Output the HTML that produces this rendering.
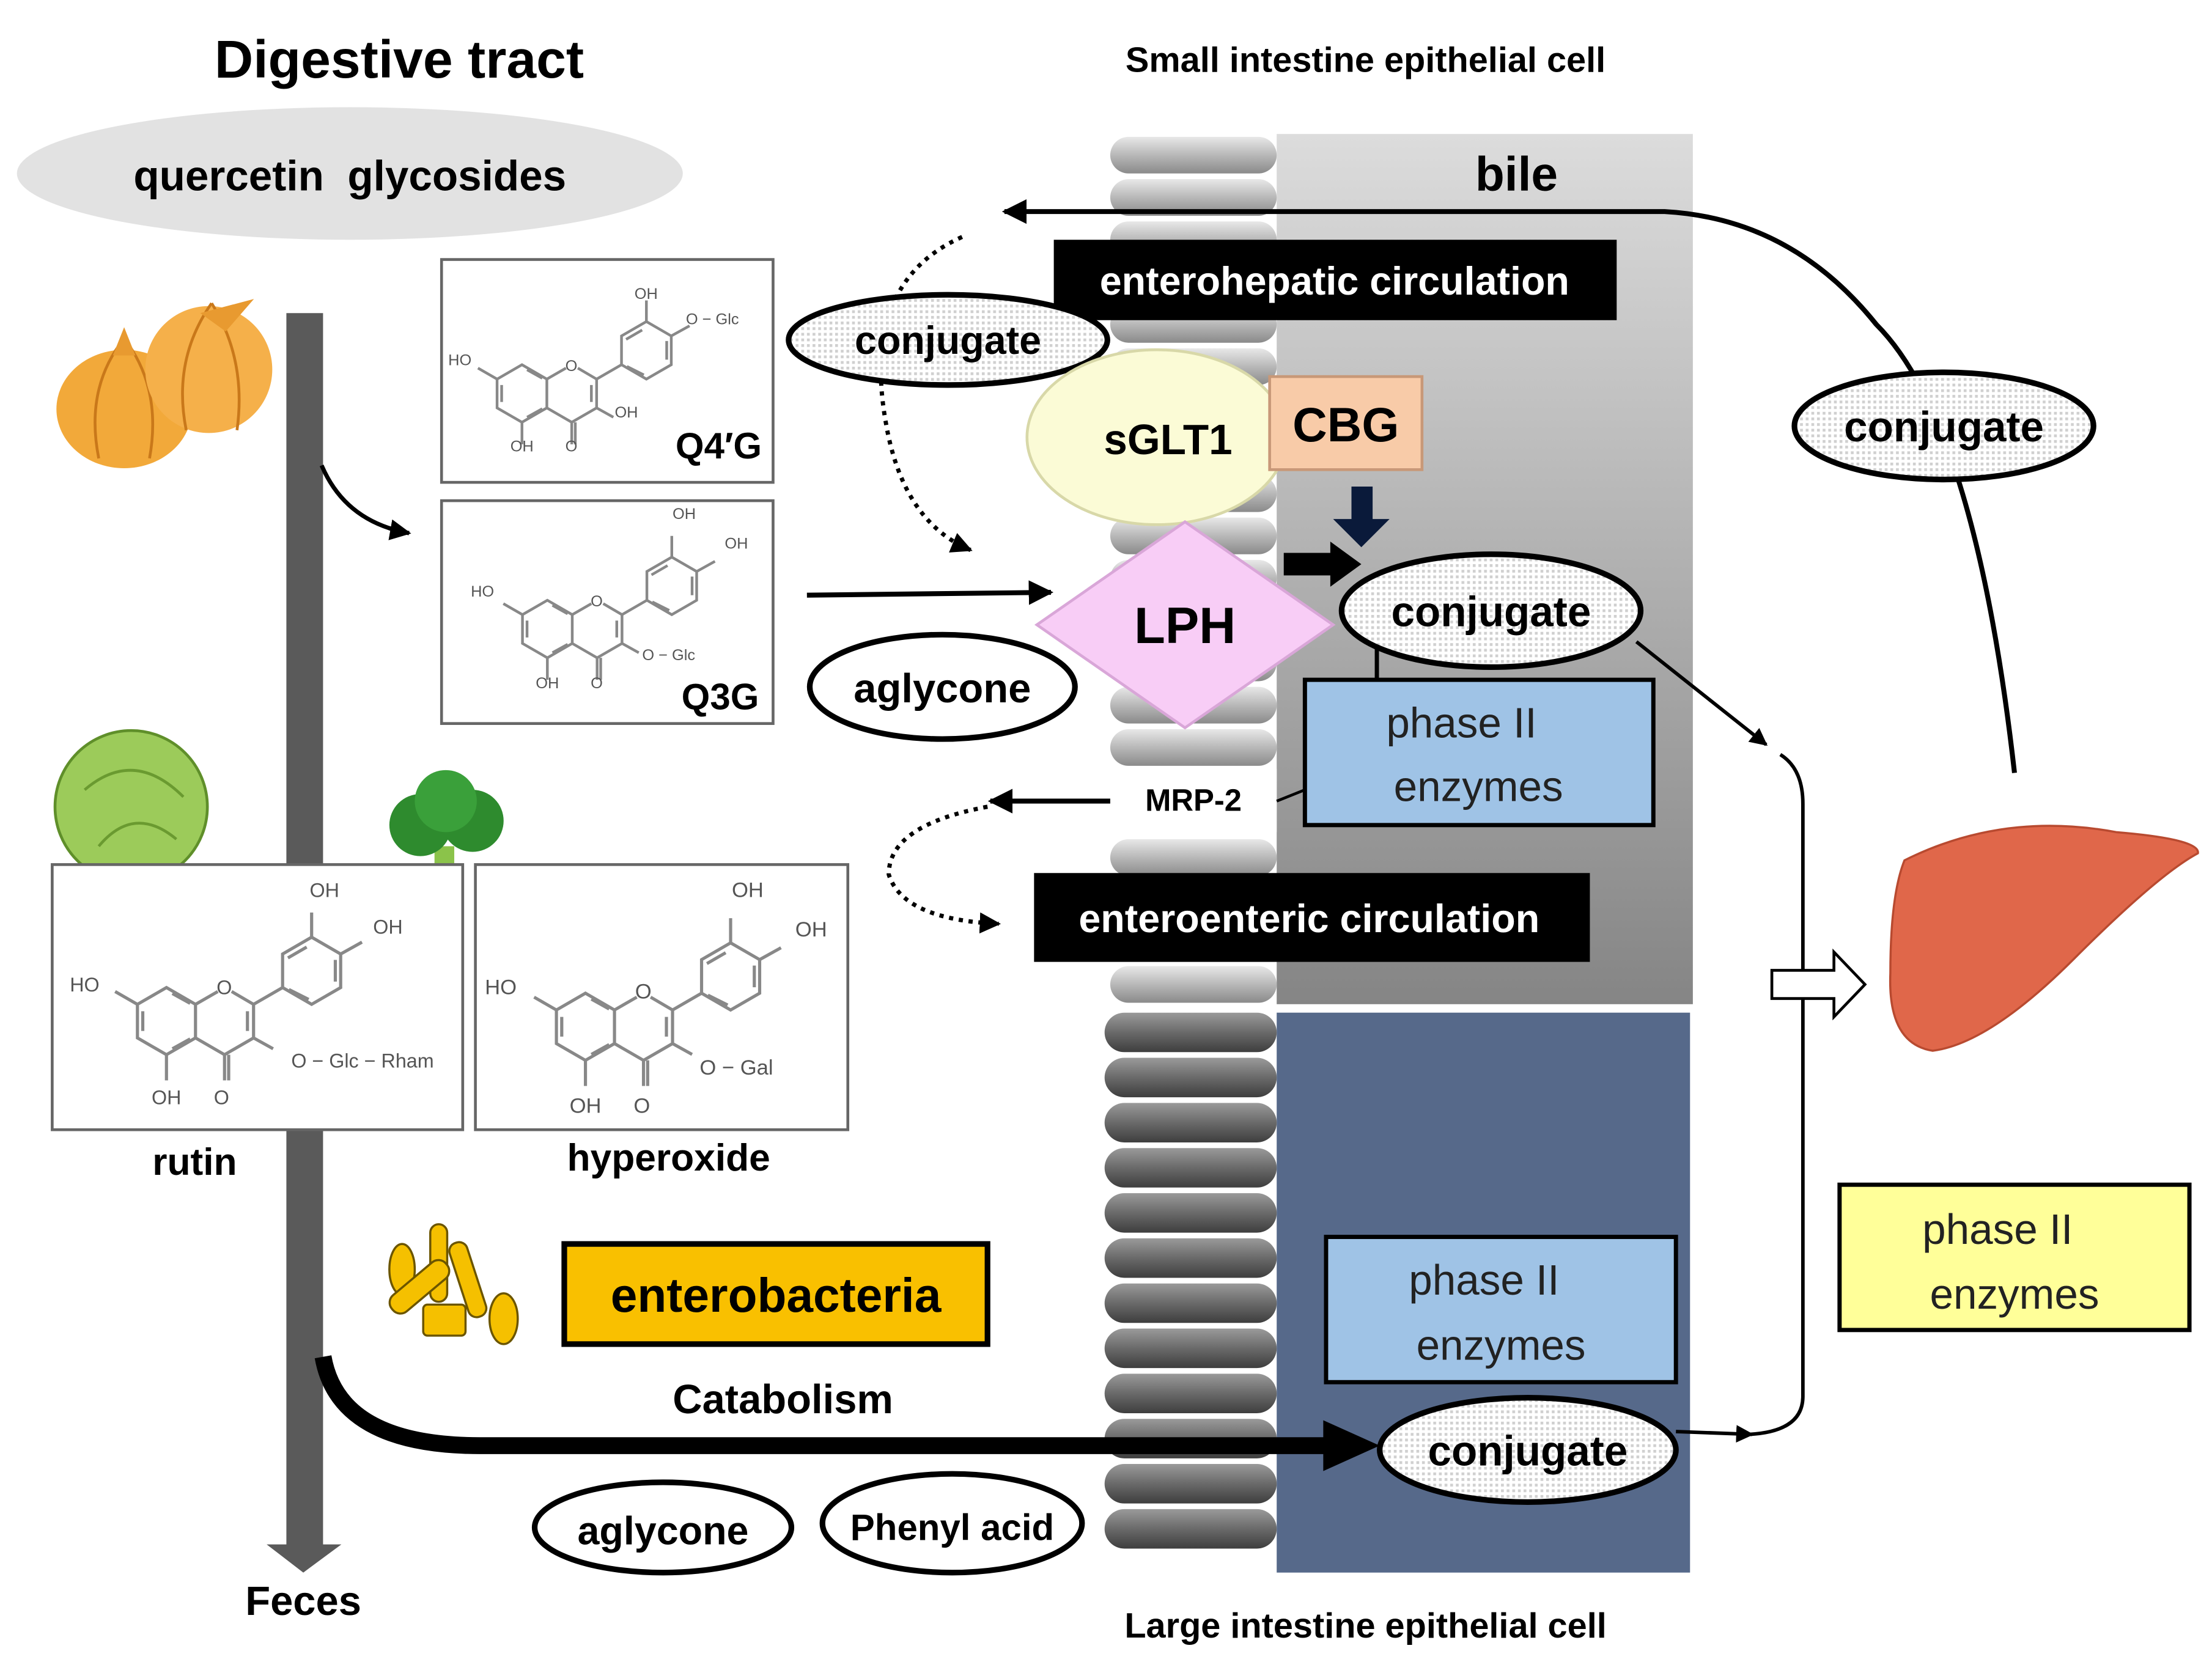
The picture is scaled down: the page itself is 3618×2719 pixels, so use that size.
<!DOCTYPE html>
<html><head><meta charset="utf-8"><style>
html,body{margin:0;padding:0;background:#fff;}
svg{display:block;}
text{font-family:"Liberation Sans",sans-serif;}
.b{font-weight:bold;}
</style></head><body>
<svg width="3618" height="2719" viewBox="0 0 1568 1178.4" preserveAspectRatio="none" xmlns="http://www.w3.org/2000/svg">
<defs>
<linearGradient id="gp" x1="0" y1="0" x2="0" y2="1"><stop offset="0" stop-color="#dcdcdc"/><stop offset="1" stop-color="#858585"/></linearGradient>
<linearGradient id="pill" x1="0" y1="0" x2="0" y2="1"><stop offset="0" stop-color="#e8e8e8"/><stop offset="0.5" stop-color="#b8b8b8"/><stop offset="1" stop-color="#8a8a8a"/></linearGradient>
<linearGradient id="pill2" x1="0" y1="0" x2="0" y2="1"><stop offset="0" stop-color="#9a9a9a"/><stop offset="0.5" stop-color="#6a6a6a"/><stop offset="1" stop-color="#3e3e3e"/></linearGradient>
<pattern id="dots" width="4" height="4" patternUnits="userSpaceOnUse"><rect width="4" height="4" fill="#fff"/><rect width="2" height="2" fill="#d0d0d0"/></pattern>
<marker id="ah" viewBox="0 0 10 10" refX="9" refY="5" markerWidth="5" markerHeight="5" orient="auto"><path d="M0,0 L10,5 L0,10 z" fill="#000"/></marker>
<g id="mol" fill="none" stroke="#888" stroke-width="1.6">
<path d="M0,-17 L14.7,-8.5 L14.7,8.5 L0,17 L-14.7,8.5 L-14.7,-8.5 Z"/>
<path d="M14.7,-8.5 L26,-15 M33,-15 L44.1,-8.5 L44.1,8.5 L29.4,17 L14.7,8.5"/>
<path d="M44.1,-8.5 L58.8,-17"/>
<path d="M58.8,-17 L58.8,-34 L73.5,-42.5 L88.2,-34 L88.2,-17 L73.5,-8.5 Z"/>
<path d="M-14.7,-8.5 L-26,-15 M0,17 L0,30 M29.4,17 L29.4,30 M31.5,17 L31.5,30 M44.1,8.5 L54,14 M73.5,-42.5 L73.5,-55 M88.2,-34 L99,-40"/>
<path d="M3,-14 L12,-9 M3,14 L12,9 M-12,-5 L-12,5 M41,-5 L41,5 M61.5,-32 L71,-37.5 M85.5,-20 L85.5,-31 M62,-16 L72,-11"/>
</g>
</defs>

<!-- title -->
<text x="283" y="55" class="b" font-size="38" text-anchor="middle">Digestive tract</text>
<ellipse cx="248" cy="123" rx="236" ry="47" fill="#e2e2e2"/>
<text x="248" y="135" class="b" font-size="30" text-anchor="middle" xml:space="preserve">quercetin  glycosides</text>

<!-- onions -->
<ellipse cx="88" cy="290" rx="48" ry="42" fill="#f2a93a"/>
<path d="M88,240 Q60,275 70,325 M88,240 Q115,275 106,325" stroke="#c9781a" stroke-width="2" fill="none"/>
<ellipse cx="148" cy="262" rx="45" ry="45" fill="#f5b04a"/>
<path d="M150,215 Q122,255 132,305 M150,215 Q175,255 168,305" stroke="#c9781a" stroke-width="2" fill="none"/>
<path d="M80,252 L88,232 L96,252 Z M142,222 L180,212 L160,235 Z" fill="#e89a30"/>

<!-- vertical gut bar -->
<rect x="203" y="222" width="26" height="875" fill="#5a5a5a"/>
<path d="M189,1095 L242,1095 L215,1115 Z" fill="#5a5a5a"/>
<text x="215" y="1145" class="b" font-size="29" text-anchor="middle">Feces</text>

<path d="M228,330 Q245,370 290,378" stroke="#000" stroke-width="3" fill="none" marker-end="url(#ah)"/>

<!-- Q4'G box -->
<rect x="313" y="184" width="235" height="158" fill="#fff" stroke="#666" stroke-width="2"/>
<use href="#mol" transform="translate(370,279) scale(1.2)"/>
<g font-size="11" fill="#555" text-anchor="middle">
<text x="326" y="259">HO</text><text x="370" y="320">OH</text><text x="405" y="320">O</text><text x="444" y="296">OH</text><text x="458" y="212">OH</text><text x="505" y="230">O − Glc</text><text x="405" y="263">O</text>
</g>
<text x="540" y="325" class="b" font-size="26" text-anchor="end">Q4′G</text>

<!-- Q3G box -->
<rect x="313" y="355" width="235" height="158" fill="#fff" stroke="#666" stroke-width="2"/>
<use href="#mol" transform="translate(388,446) scale(1.2)"/>
<g font-size="11" fill="#555" text-anchor="middle">
<text x="342" y="423">HO</text><text x="388" y="488">OH</text><text x="423" y="488">O</text><text x="474" y="468">O − Glc</text><text x="485" y="368">OH</text><text x="522" y="389">OH</text><text x="423" y="430">O</text>
</g>
<text x="538" y="503" class="b" font-size="26" text-anchor="end">Q3G</text>

<line x1="572" y1="422" x2="745" y2="420" stroke="#000" stroke-width="3.5" marker-end="url(#ah)"/>
<ellipse cx="668" cy="487" rx="94" ry="37" fill="#fff" stroke="#000" stroke-width="4"/>
<text x="668" y="498" class="b" font-size="29" text-anchor="middle">aglycone</text>

<!-- cabbage & broccoli -->
<circle cx="93" cy="572" r="54" fill="#9ccb5a" stroke="#5f8f2a" stroke-width="2"/>
<path d="M60,560 Q95,530 130,565 M70,600 Q95,570 125,595" stroke="#6a9a30" stroke-width="2" fill="none"/>
<rect x="308" y="600" width="14" height="38" fill="#8bc34a"/>
<circle cx="298" cy="585" r="22" fill="#2e8b2e"/><circle cx="335" cy="582" r="22" fill="#2e8b2e"/><circle cx="316" cy="568" r="22" fill="#3aa03a"/>

<!-- rutin box -->
<rect x="37" y="613" width="291" height="188" fill="#fff" stroke="#666" stroke-width="2"/>
<use href="#mol" transform="translate(118,724) scale(1.4)"/>
<g font-size="14" fill="#555" text-anchor="middle">
<text x="60" y="703">HO</text><text x="118" y="783">OH</text><text x="157" y="783">O</text><text x="257" y="757">O − Glc − Rham</text><text x="230" y="636">OH</text><text x="275" y="662">OH</text><text x="159" y="705">O</text>
</g>
<text x="138" y="833" class="b" font-size="27" text-anchor="middle">rutin</text>

<!-- hyperoxide box -->
<rect x="337" y="613" width="264" height="188" fill="#fff" stroke="#666" stroke-width="2"/>
<use href="#mol" transform="translate(415,728) scale(1.4)"/>
<g font-size="15" fill="#555" text-anchor="middle">
<text x="355" y="705">HO</text><text x="415" y="789">OH</text><text x="455" y="789">O</text><text x="522" y="762">O − Gal</text><text x="530" y="636">OH</text><text x="575" y="664">OH</text><text x="456" y="708">O</text>
</g>
<text x="474" y="830" class="b" font-size="27" text-anchor="middle">hyperoxide</text>

<!-- bacteria -->
<g fill="#f5c000" stroke="#6b5500" stroke-width="1.5">
<ellipse cx="285" cy="900" rx="9" ry="18"/>
<rect x="305" y="868" width="12" height="55" rx="6"/>
<rect x="325" y="880" width="13" height="55" rx="6" transform="rotate(-18 331 907)"/>
<rect x="272" y="905" width="50" height="15" rx="7" transform="rotate(-40 297 912)"/>
<rect x="300" y="925" width="30" height="22" rx="3"/>
<ellipse cx="357" cy="935" rx="10" ry="18"/>
</g>
<rect x="400" y="882" width="300" height="71" fill="#f9c000" stroke="#000" stroke-width="4"/>
<text x="550" y="930" class="b" font-size="34" text-anchor="middle">enterobacteria</text>
<text x="555" y="1002" class="b" font-size="29" text-anchor="middle">Catabolism</text>

<ellipse cx="470" cy="1083" rx="91" ry="32" fill="#fff" stroke="#000" stroke-width="4"/>
<text x="470" y="1095" class="b" font-size="28" text-anchor="middle">aglycone</text>
<ellipse cx="675" cy="1080" rx="92" ry="35" fill="#fff" stroke="#000" stroke-width="4"/>
<text x="675" y="1092" class="b" font-size="26" text-anchor="middle">Phenyl acid</text>

<!-- panels -->
<rect x="905" y="95" width="295" height="617" fill="url(#gp)"/>
<rect x="905" y="718" width="293" height="397" fill="#56698a"/>

<!-- membrane pills -->
<g fill="url(#pill)">
<rect x="787" y="97" width="118" height="26" rx="13"/>
<rect x="787" y="127" width="118" height="26" rx="13"/>
<rect x="787" y="157" width="118" height="26" rx="13"/>
<rect x="787" y="187" width="118" height="26" rx="13"/>
<rect x="787" y="217" width="118" height="26" rx="13"/>
<rect x="787" y="247" width="118" height="26" rx="13"/>
<rect x="787" y="337" width="118" height="26" rx="13"/>
<rect x="787" y="367" width="118" height="26" rx="13"/>
<rect x="787" y="397" width="118" height="26" rx="13"/>
<rect x="787" y="427" width="118" height="26" rx="13"/>
<rect x="787" y="457" width="118" height="26" rx="13"/>
<rect x="787" y="487" width="118" height="26" rx="13"/>
<rect x="787" y="517" width="118" height="26" rx="13"/>
<rect x="787" y="595" width="118" height="26" rx="13"/>
<rect x="787" y="685" width="118" height="26" rx="13"/>
</g>
<g fill="url(#pill2)">
<rect x="783" y="718" width="122" height="28" rx="14"/>
<rect x="783" y="750" width="122" height="28" rx="14"/>
<rect x="783" y="782" width="122" height="28" rx="14"/>
<rect x="783" y="814" width="122" height="28" rx="14"/>
<rect x="783" y="846" width="122" height="28" rx="14"/>
<rect x="783" y="878" width="122" height="28" rx="14"/>
<rect x="783" y="910" width="122" height="28" rx="14"/>
<rect x="783" y="942" width="122" height="28" rx="14"/>
<rect x="783" y="974" width="122" height="28" rx="14"/>
<rect x="783" y="1006" width="122" height="28" rx="14"/>
<rect x="783" y="1038" width="122" height="28" rx="14"/>
<rect x="783" y="1070" width="122" height="28" rx="14"/>
</g>

<!-- big arrow (on top of membrane) -->
<path d="M229,962 Q240,1025 340,1025 L942,1025" stroke="#000" stroke-width="12" fill="none"/>
<path d="M938,1007 L978,1025 L938,1043 Z" fill="#000"/>

<text x="968" y="51" class="b" font-size="25" text-anchor="middle">Small intestine epithelial cell</text>
<text x="968" y="1161" class="b" font-size="25" text-anchor="middle">Large intestine epithelial cell</text>
<text x="1075" y="135" class="b" font-size="34" text-anchor="middle">bile</text>

<path d="M1428,548 Q1400,300 1330,230 Q1270,155 1180,150 L712,150" stroke="#000" stroke-width="3.5" fill="none" marker-end="url(#ah)"/>

<rect x="747" y="170" width="399" height="57" fill="#000"/>
<text x="946" y="209" class="b" font-size="28" fill="#fff" text-anchor="middle">enterohepatic circulation</text>

<path d="M682,168 Q610,200 628,300 Q640,370 688,390" stroke="#000" stroke-width="3" stroke-dasharray="3,4" fill="none" marker-end="url(#ah)"/>
<ellipse cx="672" cy="241" rx="113" ry="32" fill="url(#dots)" stroke="#000" stroke-width="4"/>
<text x="672" y="251" class="b" font-size="28" text-anchor="middle">conjugate</text>

<ellipse cx="820" cy="310" rx="92" ry="62" fill="#fbfbd6" stroke="#d8d8a8" stroke-width="2"/>
<text x="828" y="322" class="b" font-size="30" text-anchor="middle">sGLT1</text>
<rect x="900" y="267" width="108" height="66" fill="#f8cba8" stroke="#c89878" stroke-width="2"/>
<text x="954" y="313" class="b" font-size="34" text-anchor="middle">CBG</text>
<path d="M958,345 L973,345 L973,368 L985,368 L965,388 L945,368 L958,368 Z" fill="#0a1a3a"/>
<path d="M910,392 L943,392 L943,384 L965,400 L943,416 L943,408 L910,408 Z" fill="#000"/>

<path d="M840,370 L945,443 L840,516 L735,443 Z" fill="#f8cdf6" stroke="#d9a6d8" stroke-width="2"/>
<text x="840" y="456" class="b" font-size="36" text-anchor="middle">LPH</text>

<line x1="976" y1="455" x2="976" y2="484" stroke="#000" stroke-width="3"/>
<ellipse cx="1057" cy="433" rx="106" ry="40" fill="url(#dots)" stroke="#000" stroke-width="4"/>
<text x="1057" y="444" class="b" font-size="30" text-anchor="middle">conjugate</text>

<rect x="925" y="482" width="247" height="103" fill="#9fc3e6" stroke="#000" stroke-width="3"/>
<text x="1036" y="523" font-size="30" text-anchor="middle" fill="#222">phase II</text>
<text x="1048" y="568" font-size="30" text-anchor="middle" fill="#222">enzymes</text>

<rect x="787" y="545" width="118" height="45" fill="#fff"/>
<text x="846" y="575" class="b" font-size="22" text-anchor="middle">MRP-2</text>
<line x1="905" y1="568" x2="925" y2="560" stroke="#000" stroke-width="2"/>
<line x1="787" y1="568" x2="702" y2="568" stroke="#000" stroke-width="3.5" marker-end="url(#ah)"/>
<path d="M700,572 Q630,585 630,620 Q640,652 708,655" stroke="#000" stroke-width="3" stroke-dasharray="3,4" fill="none" marker-end="url(#ah)"/>
<rect x="733" y="619" width="394" height="63" fill="#000"/>
<text x="928" y="661" class="b" font-size="28" fill="#fff" text-anchor="middle">enteroenteric circulation</text>

<path d="M1160,455 L1252,528" stroke="#000" stroke-width="2.5" fill="none" marker-end="url(#ah)"/>
<path d="M1262,535 Q1278,545 1278,570 L1278,990 Q1278,1015 1240,1017" stroke="#000" stroke-width="2.5" fill="none"/>
<path d="M1188,1015 L1242,1017" stroke="#000" stroke-width="2.5" fill="none" marker-end="url(#ah)"/>
<path d="M1256,688 L1300,688 L1300,675 L1322,698 L1300,721 L1300,708 L1256,708 Z" fill="#fff" stroke="#000" stroke-width="2"/>

<path d="M1350,610 Q1420,575 1500,590 Q1560,595 1558,605 Q1530,620 1470,680 Q1410,740 1370,745 Q1338,740 1340,690 Q1340,635 1350,610 Z" fill="#e0674a" stroke="#b84a30" stroke-width="1.5"/>

<ellipse cx="1378" cy="302" rx="106" ry="38" fill="url(#dots)" stroke="#000" stroke-width="4"/>
<text x="1378" y="313" class="b" font-size="30" text-anchor="middle">conjugate</text>

<rect x="1304" y="840" width="248" height="103" fill="#ffff99" stroke="#000" stroke-width="3"/>
<text x="1416" y="882" font-size="30" text-anchor="middle" fill="#222">phase II</text>
<text x="1428" y="928" font-size="30" text-anchor="middle" fill="#222">enzymes</text>

<rect x="940" y="877" width="248" height="103" fill="#9fc3e6" stroke="#000" stroke-width="3"/>
<text x="1052" y="918" font-size="30" text-anchor="middle" fill="#222">phase II</text>
<text x="1064" y="964" font-size="30" text-anchor="middle" fill="#222">enzymes</text>
<ellipse cx="1083" cy="1028" rx="105" ry="37" fill="url(#dots)" stroke="#000" stroke-width="4"/>
<text x="1083" y="1039" class="b" font-size="30" text-anchor="middle">conjugate</text>
</svg>
</body></html>
